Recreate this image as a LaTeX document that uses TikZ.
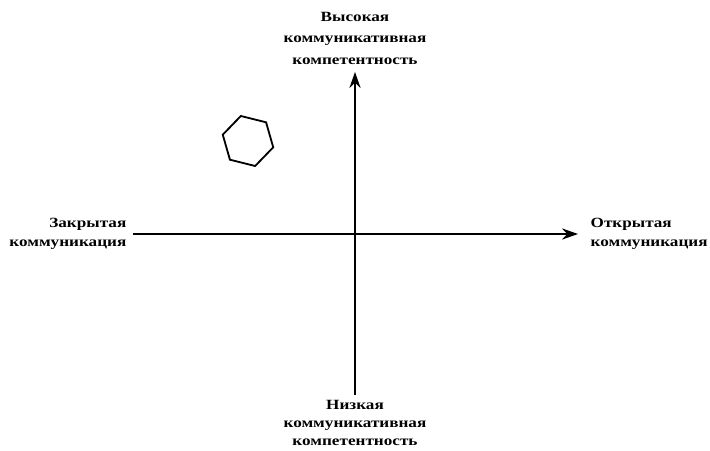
\documentclass[tikz,border=0pt]{standalone}
\usepackage{fontspec}
\setmainfont{Liberation Serif}
\newfontfamily\labfont[FakeStretch=1.22]{Liberation Serif}
\usetikzlibrary{positioning,shapes.geometric,arrows.meta}

\begin{document}
\begin{tikzpicture}[x=0.025cm, y=-0.025cm,
  lab/.style={font=\labfont\fontsize{10}{13}\selectfont\bfseries, inner sep=1pt},
  axis/.style={line width=1.2pt, -{Stealth[length=4mm, width=2.8mm]}},
  hex/.style={draw, line width=1.3pt, regular polygon, regular polygon sides=6,
              minimum size=1.3cm, inner sep=0pt, rotate=46}
]
\useasboundingbox (0,0) rectangle (710,451);

%% axis labels
\node[lab, align=center, font=\labfont\fontsize{10}{15.3}\selectfont\bfseries]
                                     (hi) at (355,38)  {Высокая\\коммуникативная\\компетентность};
\node[lab, align=center]             (lo) at (355,423) {Низкая\\коммуникативная\\компетентность};
\node[lab, align=right, anchor=east] (cl) at (128,234) {Закрытая\\коммуникация};
\node[lab, align=left, anchor=west]  (op) at (589,234) {Открытая\\коммуникация};

%% axes
\coordinate (w) at (133,234);
\coordinate (e) at (578,234);
\coordinate (s) at (355,395);
\coordinate (n) at (355,72);
\draw[axis] (w) -- (e);
\draw[axis] (s) -- (n);

%% hexagon
\node[hex] (hx) at (248,141) {};
\end{tikzpicture}
\end{document}
